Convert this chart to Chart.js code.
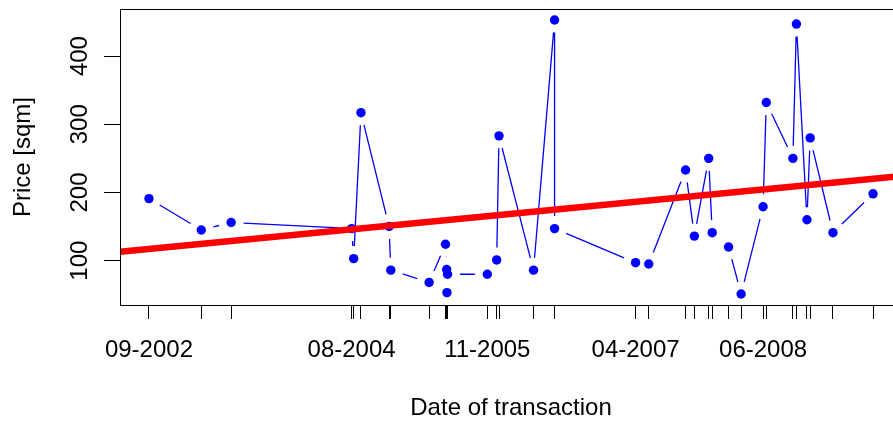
<!DOCTYPE html>
<html>
<head>
<meta charset="utf-8">
<script src="https://cdn.jsdelivr.net/npm/chart.js@4.4.1/dist/chart.umd.min.js"></script>
<style>
  html, body { margin: 0; padding: 0; background: #fff; overflow: hidden; width: 893px; height: 423px; }
  #wrap { width: 930px; height: 423px; }
</style>
</head>
<body>
<div id="wrap"><canvas id="c" width="930" height="423"></canvas></div>
<script>
// Transactions, in date order
const saleDates = [
  '2002-09-15', '2003-03-13', '2003-06-23', '2004-08-08', '2004-08-15',
  '2004-09-09', '2004-12-14', '2004-12-20', '2005-04-30', '2005-06-25',
  '2005-06-29', '2005-06-30', '2005-07-02', '2005-11-15', '2005-12-17',
  '2005-12-25', '2006-04-22', '2006-07-03', '2006-07-03', '2007-04-06',
  '2007-05-21', '2007-09-24', '2007-10-24', '2007-12-12', '2007-12-24',
  '2008-02-18', '2008-04-01', '2008-06-15', '2008-06-26', '2008-09-25',
  '2008-10-07', '2008-11-12', '2008-11-23', '2009-02-09', '2009-06-26'
];
const pricePerSqm = [
  191, 145, 156, 147, 103,
  317, 150, 86, 68, 124,
  87, 53, 80, 80, 101,
  283, 86, 453, 147, 97,
  95, 233, 136, 250, 141,
  120, 51, 179, 332, 250,
  447, 160, 280, 141, 198
];
// Dates that carry a label on the time axis, and their labels
const labelDates = ['2002-09-15', '2004-08-08', '2005-11-15', '2007-04-06', '2008-06-15'];
const tickLabels = ['09-2002', '08-2004', '11-2005', '04-2007', '06-2008'];
const priceTicks = [100, 200, 300, 400];
// Linear trend of price over time, at the two ends of the date axis
const trendEnds = [113, 224];

const FONT = '"Liberation Sans", Arial, Helvetica, sans-serif';
const toTime = s => Date.parse(s + 'T00:00:00Z');

const xs = saleDates.map(toTime);
const xLo = Math.min(...xs), xHi = Math.max(...xs);
const xMin = xLo - (xHi - xLo) * 0.04, xMax = xHi + (xHi - xLo) * 0.04;
const yLo = Math.min(...pricePerSqm), yHi = Math.max(...pricePerSqm);
const yMin = yLo - (yHi - yLo) * 0.04, yMax = yHi + (yHi - yLo) * 0.04;

const points = xs.map((x, i) => ({ x, y: pricePerSqm[i] }));
const trend = [{ x: xMin, y: trendEnds[0] }, { x: xMax, y: trendEnds[1] }];
const tickTimes = [...new Set(xs)];
const labelByTime = new Map(labelDates.map((d, i) => [toTime(d), tickLabels[i]]));

// Connect the points with segments that stop short of each marker
const gappedLines = {
  id: 'gappedLines',
  beforeDatasetDraw(chart, args) {
    if (args.index !== 0) return;
    const pts = chart.getDatasetMeta(0).data;
    const gap = 12.5;
    const ctx = chart.ctx;
    ctx.save();
    ctx.beginPath();
    ctx.rect(chart.chartArea.left, chart.chartArea.top, chart.chartArea.width, chart.chartArea.height);
    ctx.clip();
    ctx.strokeStyle = '#0000ff';
    ctx.lineWidth = 1.3;
    ctx.beginPath();
    for (let i = 1; i < pts.length; i++) {
      const a = pts[i - 1], b = pts[i];
      const dx = b.x - a.x, dy = b.y - a.y;
      const d = Math.hypot(dx, dy);
      if (d <= 2 * gap) continue;
      const ux = dx / d, uy = dy / d;
      ctx.moveTo(a.x + ux * gap, a.y + uy * gap);
      ctx.lineTo(b.x - ux * gap, b.y - uy * gap);
    }
    ctx.stroke();
    ctx.restore();
  }
};

// Plot frame and the upright price labels
const frameAndLabels = {
  id: 'frameAndLabels',
  afterDraw(chart) {
    const { ctx, chartArea: ca } = chart;
    ctx.save();
    ctx.strokeStyle = '#000';
    ctx.lineWidth = 1;
    ctx.strokeRect(Math.round(ca.left) + 0.5, Math.round(ca.top) + 0.5,
                   Math.round(ca.width), Math.round(ca.height));
    const ys = chart.scales.y;
    ctx.fillStyle = '#000';
    ctx.font = '24px ' + FONT;
    ctx.textAlign = 'center';
    ctx.textBaseline = 'middle';
    ys.ticks.forEach(t => {
      const py = ys.getPixelForValue(t.value);
      ctx.save();
      ctx.translate(ca.left - 40, py);
      ctx.rotate(-Math.PI / 2);
      ctx.fillText(String(t.value), 0, 0);
      ctx.restore();
    });
    ctx.restore();
  }
};

new Chart(document.getElementById('c'), {
  type: 'scatter',
  data: {
    datasets: [
      {
        data: points,
        showLine: false,
        pointRadius: 4.7,
        pointBackgroundColor: '#0000ff',
        pointBorderWidth: 0,
        order: 1
      },
      {
        type: 'line',
        data: trend,
        borderColor: '#ff0000',
        borderWidth: 6.5,
        borderCapStyle: 'butt',
        pointRadius: 0,
        fill: false,
        tension: 0,
        order: 0
      }
    ]
  },
  options: {
    responsive: false,
    animation: false,
    devicePixelRatio: 1,
    events: [],
    layout: { padding: { top: 9, right: 28, left: 0, bottom: 0 } },
    plugins: { legend: { display: false }, tooltip: { enabled: false } },
    scales: {
      x: {
        type: 'linear',
        position: 'bottom',
        min: xMin,
        max: xMax,
        afterBuildTicks: s => { s.ticks = tickTimes.map(v => ({ value: v })); },
        afterFit: s => { s.height = 118; },
        ticks: {
          autoSkip: false,
          minRotation: 0,
          maxRotation: 0,
          padding: 17,
          color: '#000',
          font: { family: FONT, size: 24 },
          callback: v => labelByTime.get(v) || ''
        },
        grid: { drawOnChartArea: false, drawTicks: true, tickLength: 14, color: '#000', lineWidth: 1 },
        border: { display: false },
        title: {
          display: true,
          text: 'Date of transaction',
          color: '#000',
          font: { family: FONT, size: 24 },
          padding: { top: 0, bottom: 0 }
        }
      },
      y: {
        type: 'linear',
        position: 'left',
        min: yMin,
        max: yMax,
        afterBuildTicks: s => { s.ticks = priceTicks.map(v => ({ value: v })); },
        afterFit: s => { s.width = 120; },
        ticks: { display: false },
        grid: { drawOnChartArea: false, drawTicks: true, tickLength: 16, color: '#000', lineWidth: 1 },
        border: { display: false },
        title: {
          display: true,
          text: 'Price [sqm]',
          color: '#000',
          font: { family: FONT, size: 24 },
          padding: { top: 9, bottom: 0 }
        }
      }
    }
  },
  plugins: [gappedLines, frameAndLabels]
});
</script>
</body>
</html>
